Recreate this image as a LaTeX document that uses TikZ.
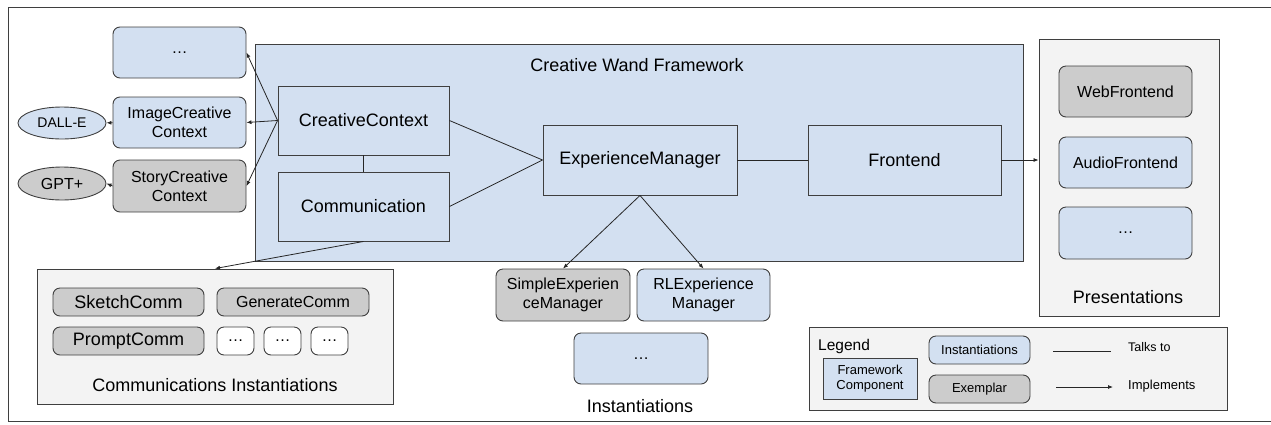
\documentclass[tikz,border=0pt]{standalone}
\usepackage{fontspec}
\setmainfont{Liberation Sans}
\usepackage{tikz}
\usetikzlibrary{arrows.meta}
\usetikzlibrary{shapes.geometric}
\definecolor{fwblue}{HTML}{D3E0F1}
\definecolor{exgray}{HTML}{CCCCCC}
\definecolor{boxgray}{HTML}{F3F3F3}
\definecolor{edgegray}{HTML}{3F3F3F}
\newcommand{\bigtxt}{\fontsize{18}{21}\selectfont}
\newcommand{\midtxt}{\fontsize{16}{19}\selectfont}
\newcommand{\smalltxt}{\fontsize{13}{15.5}\selectfont}

\begin{document}
\begin{tikzpicture}[x=1pt, y=-1pt,
    >={Latex[length=5pt, width=4pt]},
    every node/.style={inner sep=0pt},
    comp/.style={draw=edgegray, line width=0.9pt, fill=fwblue, font=\bigtxt},
    inst/.style={draw=edgegray, line width=0.9pt, fill=fwblue, rounded corners=7pt,
      align=center, font=\midtxt},
    exem/.style={inst, fill=exgray},
    group/.style={draw=edgegray, line width=0.9pt, fill=boxgray},
    wire/.style={draw=black!85, line width=0.8pt}]
    \useasboundingbox (0,0) rectangle (1271,424);
    \draw[edgegray, line width=0.8pt] (8,7) rectangle (1290,421);

    % framework
    \node[comp, minimum width=768pt, minimum height=217pt] (fw) at (639,152.5){};
    \node[font=\bigtxt] (fwtitle) at (637,65){Creative Wand Framework};
    \node[comp, minimum width=171pt, minimum height=69pt] (cc) at (363.5,120.5){CreativeContext};
    \node[comp, minimum width=171pt, minimum height=69pt] (comm) at (363.5,206.5){Communication};
    \node[comp, minimum width=194pt, minimum height=70pt] (em) at (640,160){ExperienceManager};
    \node[comp, minimum width=193pt, minimum height=70pt] (fe) at (904.5,160){Frontend};

    % creative contexts
    \node[inst, minimum width=133pt, minimum height=51pt] (ctxdots) at (179.5,52.5){\dots};
    \node[inst, minimum width=133pt, minimum height=51pt] (icc) at (179.5,122.5){ImageCreative\\Context};
    \node[exem, minimum width=133pt, minimum height=52pt] (scc) at (179.5,186){StoryCreative\\Context};
    \node[ellipse, draw=edgegray, line width=0.9pt, fill=fwblue, minimum width=88pt,
      minimum height=32pt, font=\fontsize{14}{16}\selectfont] (dalle) at (62,123){DALL-E};
    \node[ellipse, draw=edgegray, line width=0.9pt, fill=exgray, minimum width=88pt,
      minimum height=33pt, font=\midtxt] (gpt) at (62,183.5){GPT+};

    % communications
    \node[group, minimum width=356pt, minimum height=135pt] (ci) at (215,336.5){};
    \node[exem, font=\bigtxt, minimum width=151pt, minimum height=28pt] (sketch) at (128.5,302){SketchComm};
    \node[exem, minimum width=152pt, minimum height=28pt] (generate) at (293,302){GenerateComm};
    \node[exem, font=\bigtxt, minimum width=151pt, minimum height=28pt] (prompt) at (128.5,341){PromptComm};
    \node[inst, fill=white, minimum width=37pt, minimum height=28pt] (cd1) at (235.5,341){\dots};
    \node[inst, fill=white, minimum width=37pt, minimum height=28pt] (cd2) at (282.5,341){\dots};
    \node[inst, fill=white, minimum width=37pt, minimum height=28pt] (cd3) at (329.5,341){\dots};
    \node[font=\bigtxt] (cilabel) at (215,385){Communications Instantiations};

    % experience managers
    \node[exem, minimum width=134pt, minimum height=52pt] (sem) at (563,295){SimpleExperien\\ceManager};
    \node[inst, minimum width=133pt, minimum height=52pt] (rlem) at (703.5,295){RLExperience\\Manager};
    \node[inst, minimum width=134pt, minimum height=51pt] (emdots) at (641,358.5){\dots};
    \node[font=\bigtxt] (emlabel) at (640,406){Instantiations};

    % presentations
    \node[group, minimum width=180pt, minimum height=277pt] (pres) at (1129,177.5){};
    \node[exem, minimum width=133pt, minimum height=51pt] (web) at (1125.5,91.5){WebFrontend};
    \node[inst, minimum width=133pt, minimum height=51pt] (audio) at (1125.5,162.5){AudioFrontend};
    \node[inst, minimum width=133pt, minimum height=52pt] (fedots) at (1125.5,233){\dots};
    \node[font=\bigtxt] (preslabel) at (1128,297){Presentations};

    % legend
    \node[group, minimum width=418pt, minimum height=83pt] (legend) at (1018,368.5){};
    \node[anchor=west, font=\fontsize{15.5}{18}\selectfont] (legendtitle) at (818,346){Legend};
    \node[comp, font=\smalltxt, align=center, minimum width=94pt, minimum height=41pt] (lfw) at (870,378.5){Framework\\Component};
    \node[inst, font=\smalltxt, minimum width=101pt, minimum height=28pt] (linst) at (979.5,350){Instantiations};
    \node[exem, font=\smalltxt, minimum width=101pt, minimum height=28pt] (lex) at (979.5,389){Exemplar};
    \coordinate (talkA) at (1053,351);
    \coordinate (talkB) at (1111,351);
    \coordinate (implA) at (1056,387);
    \coordinate (implB) at (1113,387);
    \node[anchor=west, font=\fontsize{12.5}{15}\selectfont] (talklabel) at (1128,347){Talks to};
    \node[anchor=west, font=\smalltxt] (impllabel) at (1128,386){Implements};
    \draw[wire] (talkA)--(talkB);
    \draw[wire, ->] (implA)--(implB);

    % connectors
    \draw[wire] (cc)--(comm);
    \draw[wire, ->] (cc.west)--(ctxdots.east);
    \draw[wire, ->] (cc.west)--(icc.east);
    \draw[wire, ->] (cc.west)--(scc.east);
    \draw[wire, ->] (icc)--(dalle);
    \draw[wire, ->] (scc.west)--(gpt.east);
    \draw[wire] (cc.east)--(em.west);
    \draw[wire] (comm.east)--(em.west);
    \draw[wire, ->] (comm.south)--(ci.north);
    \draw[wire] (em)--(fe);
    \draw[wire, ->] (fe.east)--(fe.east -| pres.west);
    \draw[wire, ->] (em.south)--(sem.north);
    \draw[wire, ->] (em.south)--(rlem.north);
  \end{tikzpicture}
\end{document}
